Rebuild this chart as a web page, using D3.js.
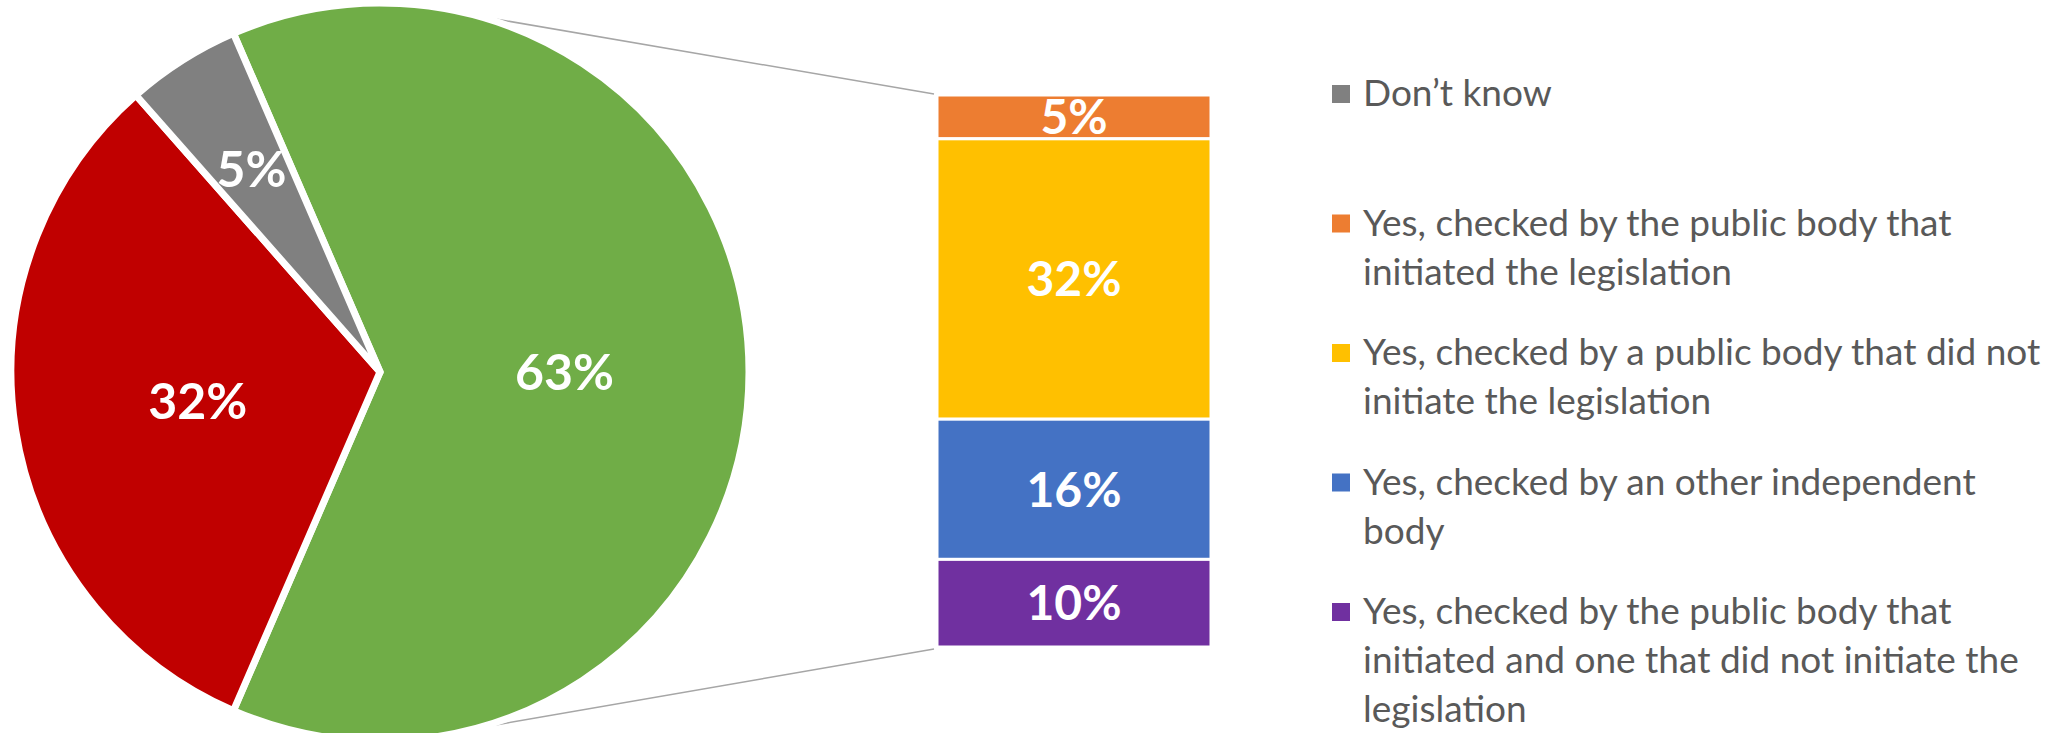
<!DOCTYPE html>
<html lang="en">
	<head>
		<meta charset="utf-8">
		<title>Bar of pie</title>
		<style type="text/css">
			body { margin: 0; background: #fff; }
			svg { display: block; }
		</style>
	</head>
	<body>
		<script src="https://d3js.org/d3.v7.min.js"></script>
		<script>
			//Width and height
			var w = 2063;
			var h = 733;

			//Pie data (the green slice is split into the bar)
			var pieLabels = ["Yes", "No", "Don’t know"];
			var pieValues = [63, 32, 5];
			var pieColors = ["#70AD47", "#C00000", "#808080"];

			//Bar data, top to bottom
			var barValues = [5, 32, 16, 10];
			var barColors = ["#ED7D31", "#FFC000", "#4472C4", "#7030A0"];

			//Legend
			var legendColors = ["#808080", "#ED7D31", "#FFC000", "#4472C4", "#7030A0"];
			var legendLines = [
				["Don’t know"],
				["Yes, checked by the public body that", "initiated the legislation"],
				["Yes, checked by a public body that did not", "initiate the legislation"],
				["Yes, checked by an other independent", "body"],
				["Yes, checked by the public body that", "initiated and one that did not initiate the", "legislation"]
			];

			var cx = 380, cy = 372, R = 369;
			var barX0 = 937, barX1 = 1211, barTop = 95, barBottom = 647;

			var svg = d3.select("body")
						.append("svg")
						.attr("width", w)
						.attr("height", h);

			//Pie turned so the split slice faces the bar
			var total = d3.sum(pieValues);
			var start = (Math.PI / 2) - (pieValues[0] / total) * Math.PI;
			var pie = d3.pie()
						.sort(null)
						.startAngle(start)
						.endAngle(start + 2 * Math.PI);
			var arcs = pie(pieValues);

			var arc = d3.arc().innerRadius(0).outerRadius(R);

			//Bar scale
			var yScale = d3.scaleLinear()
							.domain([0, d3.sum(barValues)])
							.range([barTop, barBottom]);
			var cum = [0].concat(Array.from(d3.cumsum(barValues)));

			//Connector lines (behind everything)
			var connAngle = 75 * Math.PI / 180;
			var conn = [
				[cx + R * Math.cos(-connAngle), cy + R * Math.sin(-connAngle), barX0 - 3, yScale(0) - 1],
				[cx + R * Math.cos(connAngle), cy + R * Math.sin(connAngle), barX0 - 3, yScale(d3.sum(barValues)) + 2]
			];
			svg.selectAll("line.conn")
			   .data(conn)
			   .enter()
			   .append("line")
			   .attr("class", "conn")
			   .attr("x1", function(d) { return d[0]; })
			   .attr("y1", function(d) { return d[1]; })
			   .attr("x2", function(d) { return d[2]; })
			   .attr("y2", function(d) { return d[3]; })
			   .attr("stroke", "#A6A6A6")
			   .attr("stroke-width", 1.5);

			var g = svg.append("g")
						.attr("transform", "translate(" + cx + "," + cy + ")");

			g.selectAll("path")
			 .data(arcs)
			 .enter()
			 .append("path")
			 .attr("d", arc)
			 .attr("fill", function(d, i) { return pieColors[i]; })
			 .attr("stroke", "#fff")
			 .attr("stroke-width", 7)
			 .attr("stroke-linejoin", "round");

			//Pie labels, small slices pushed outward
			g.selectAll("text")
			 .data(arcs)
			 .enter()
			 .append("text")
			 .text(function(d) { return d.value + "%"; })
			 .attr("transform", function(d) {
			 	var r = d.value < 10 ? R * 0.65 : R * 0.5;
			 	var a = (d.startAngle + d.endAngle) / 2;
			 	return "translate(" + (r * Math.sin(a)) + "," + (-r * Math.cos(a)) + ")";
			 })
			 .attr("text-anchor", "middle")
			 .attr("dy", "0.36em")
			 .attr("font-family", "Lato, sans-serif")
			 .attr("font-weight", "bold")
			 .attr("font-size", "50px")
			 .attr("fill", "#fff");

			//Bar segments
			svg.selectAll("rect.seg")
			   .data(barValues)
			   .enter()
			   .append("rect")
			   .attr("class", "seg")
			   .attr("x", barX0)
			   .attr("y", function(d, i) { return yScale(cum[i]); })
			   .attr("width", barX1 - barX0)
			   .attr("height", function(d) { return yScale(d) - yScale(0); })
			   .attr("fill", function(d, i) { return barColors[i]; })
			   .attr("stroke", "#fff")
			   .attr("stroke-width", 3);

			svg.selectAll("text.seg")
			   .data(barValues)
			   .enter()
			   .append("text")
			   .attr("class", "seg")
			   .text(function(d) { return d + "%"; })
			   .attr("x", (barX0 + barX1) / 2)
			   .attr("y", function(d, i) { return (yScale(cum[i]) + yScale(cum[i + 1])) / 2; })
			   .attr("text-anchor", "middle")
			   .attr("dy", "0.36em")
			   .attr("font-family", "Lato, sans-serif")
			   .attr("font-weight", "bold")
			   .attr("font-size", "48px")
			   .attr("fill", "#fff");

			//Legend
			var legX = 1332, legY = 106, legStep = 129.5, lineH = 49;
			var leg = svg.selectAll("g.leg")
						 .data(legendLines)
						 .enter()
						 .append("g")
						 .attr("class", "leg")
						 .attr("transform", function(d, i) {
						 	return "translate(" + legX + "," + (legY + i * legStep) + ")";
						 });
			leg.append("rect")
			   .attr("x", 0)
			   .attr("y", -21)
			   .attr("width", 18)
			   .attr("height", 18)
			   .attr("fill", function(d, i) { return legendColors[i]; });
			leg.append("text")
			   .attr("font-family", "Lato, sans-serif")
			   .attr("font-size", "37px")
			   .attr("fill", "#595959")
			   .selectAll("tspan")
			   .data(function(d) { return d; })
			   .enter()
			   .append("tspan")
			   .attr("x", 31)
			   .attr("y", function(d, i) { return i * lineH; })
			   .text(function(d) { return d; });
		</script>
	</body>
</html>
